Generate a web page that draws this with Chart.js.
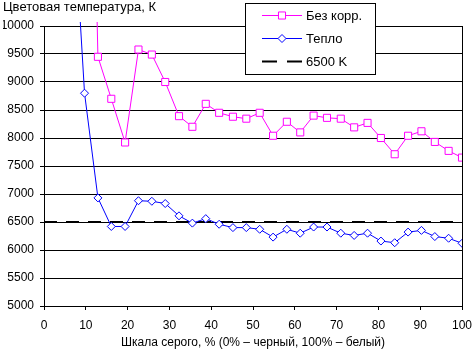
<!DOCTYPE html>
<html>
<head>
<meta charset="utf-8">
<script src="https://cdn.jsdelivr.net/npm/chart.js@4/dist/chart.umd.min.js"></script>
<style>
  html, body { margin: 0; padding: 0; background: #fff; }
  #wrap { width: 472px; height: 349px; }
</style>
</head>
<body>
<div id="wrap"><canvas id="tempChart" width="472" height="349"></canvas></div>
<script>
// шкала серого, %
const grayLevels = [0, 3.2, 6.5, 9.7, 12.9, 16.1, 19.4, 22.6, 25.8, 29.0, 32.3, 35.5, 38.7, 41.9, 45.2, 48.4,
  51.6, 54.8, 58.1, 61.3, 64.5, 67.7, 71.0, 74.2, 77.4, 80.6, 83.9, 87.1, 90.3, 93.5, 96.8, 100];
// цветовая температура, K
const noCorrection = [null, null, null, 20000, 9450, 8700, 7920, 9580, 9490, 9000, 8390, 8200, 8610, 8450, 8380, 8345,
  8450, 8040, 8290, 8100, 8400, 8360, 8345, 8190, 8270, 8000, 7710, 8040, 8120, 7930, 7770, 7650];
const warm = [null, null, 12800, 8800, 6930, 6420, 6420, 6880, 6870, 6830, 6610, 6480, 6560, 6460, 6400, 6400,
  6370, 6230, 6370, 6300, 6410, 6410, 6300, 6260, 6300, 6160, 6130, 6320, 6350, 6240, 6210, 6120];
const refX = [0, 100];
const refTemp = [6500, 6500];
const seriesNames = ['Без корр.', 'Тепло', '6500 K'];
const yTicks = { min: 5000, max: 10000, step: 500 };
const xTicks = { min: 0, max: 100, step: 10 };

const FONT = '"Liberation Sans", Arial, sans-serif';
Chart.defaults.font.family = FONT;
Chart.defaults.font.size = 12;
Chart.defaults.color = '#000';

function points(xs, ys) {
  return xs.map((x, i) => ({ x: x, y: ys[i] }));
}

// рамка с легендой поверх графика
const boxLegend = {
  id: 'boxLegend',
  afterDraw(chart) {
    const ctx = chart.ctx;
    ctx.save();
    ctx.fillStyle = '#fff';
    ctx.strokeStyle = '#000';
    ctx.lineWidth = 1;
    ctx.fillRect(245.5, 3.5, 130, 71);
    ctx.strokeRect(245.5, 3.5, 130, 71);
    const rows = [15.5, 38.5, 61.5];
    chart.data.datasets.forEach((ds, i) => {
      const y = rows[i];
      ctx.strokeStyle = ds.borderColor;
      ctx.lineWidth = ds.borderWidth;
      ctx.setLineDash(ds.borderDash ? [15, 10] : []);
      ctx.beginPath();
      ctx.moveTo(262, y);
      ctx.lineTo(302, y);
      ctx.stroke();
      ctx.setLineDash([]);
      if (ds.pointRadius) {
        ctx.fillStyle = ds.pointBackgroundColor;
        ctx.strokeStyle = ds.borderColor;
        ctx.lineWidth = ds.pointBorderWidth;
        Chart.helpers.drawPoint(ctx, {
          pointStyle: ds.pointStyle, radius: ds.pointRadius, rotation: 0, borderWidth: ds.pointBorderWidth
        }, 282, y);
      }
      ctx.fillStyle = '#000';
      ctx.font = '13px ' + FONT;
      ctx.textBaseline = 'middle';
      ctx.fillText(ds.label, 306, y + 0.5);
    });
    ctx.restore();
  }
};

new Chart(document.getElementById('tempChart'), {
  type: 'line',
  data: {
    datasets: [{
      label: seriesNames[0],
      data: points(grayLevels, noCorrection),
      borderColor: '#ff00ff',
      borderWidth: 1,
      pointStyle: 'rect',
      pointRadius: 5,
      pointBorderWidth: 1,
      pointBackgroundColor: '#fff',
      clip: { left: 0, top: 4, right: 0, bottom: 0 }
    }, {
      label: seriesNames[1],
      data: points(grayLevels, warm),
      borderColor: '#0000ff',
      borderWidth: 1,
      pointStyle: 'rectRot',
      pointRadius: 4,
      pointBorderWidth: 1,
      pointBackgroundColor: '#fff',
      clip: { left: 0, top: 4, right: 0, bottom: 0 }
    }, {
      label: seriesNames[2],
      data: points(refX, refTemp),
      borderColor: '#000',
      borderWidth: 2,
      borderDash: [13, 9],
      pointRadius: 0
    }]
  },
  options: {
    responsive: false,
    animation: false,
    layout: { padding: { left: 3, right: 10, top: 0, bottom: 0 } },
    plugins: {
      legend: { display: false },
      tooltip: { enabled: false },
      title: {
        display: true,
        text: 'Цветовая температура, К',
        align: 'start',
        color: '#000',
        font: { size: 13, weight: 'normal' },
        padding: { top: 0, bottom: 10.4 }
      }
    },
    scales: {
      x: {
        type: 'linear',
        min: xTicks.min,
        max: xTicks.max,
        ticks: { stepSize: xTicks.step, padding: 8, maxRotation: 0 },
        grid: { drawOnChartArea: false, color: '#000', tickLength: 4 },
        border: { color: '#000' },
        title: {
          display: true,
          text: 'Шкала серого, % (0% – черный, 100% – белый)',
          font: { size: 12, lineHeight: 1 },
          padding: { top: 0, bottom: 0 }
        },
        afterFit(scale) {
          scale.height = 43;
          scale.paddingLeft = 0;
          scale.paddingRight = 10;
        }
      },
      y: {
        min: yTicks.min,
        max: yTicks.max,
        ticks: { stepSize: yTicks.step, padding: 6, callback: (v) => String(v) },
        grid: { color: '#000', tickLength: 4 },
        border: { color: '#000' },
        afterFit(scale) { scale.width = 41; }
      },
      yRight: {
        position: 'right',
        min: yTicks.min,
        max: yTicks.max,
        ticks: { display: false },
        grid: { drawOnChartArea: false, drawTicks: false },
        border: { color: '#000' },
        afterFit(scale) { scale.width = 0; }
      }
    }
  },
  plugins: [boxLegend]
});
</script>
</body>
</html>
